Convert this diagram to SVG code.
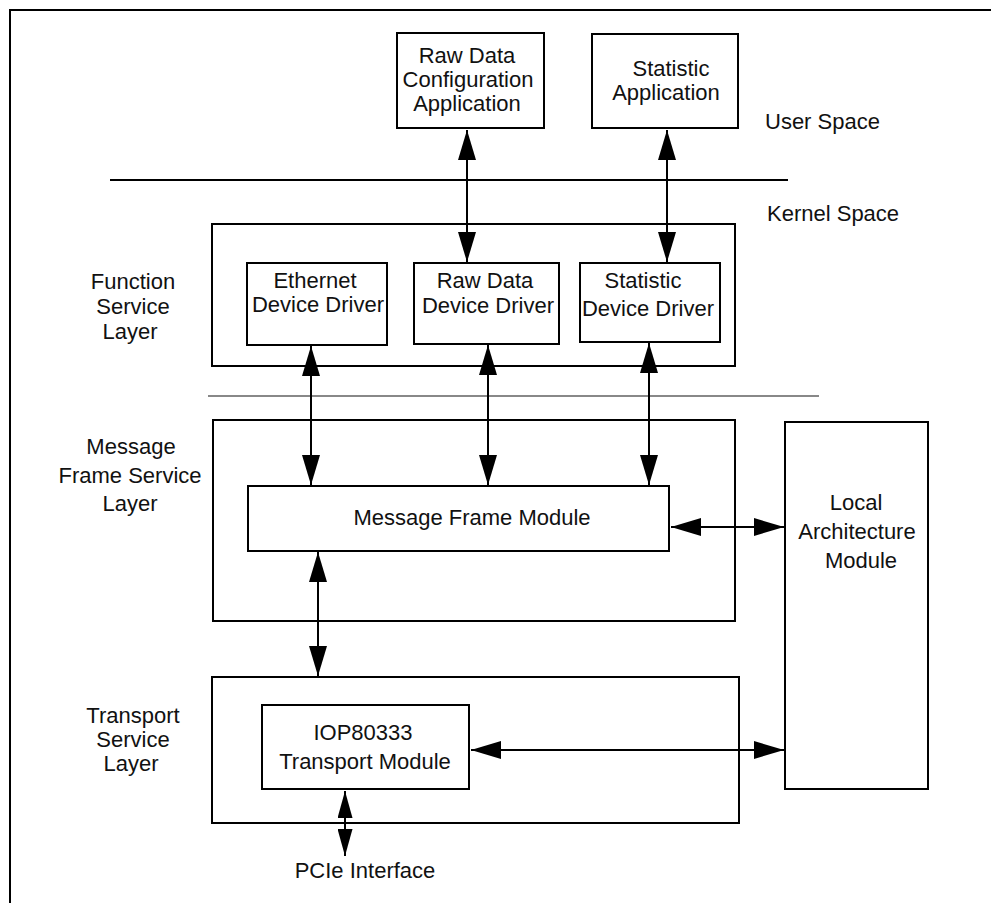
<svg xmlns="http://www.w3.org/2000/svg" width="991" height="903" viewBox="0 0 991 903">
  <style>
    .box { fill: none; stroke: #000; stroke-width: 2; }
    .t { font-family: "Liberation Sans", Arial, sans-serif; font-size: 22px; fill: #111; text-anchor: middle; }
    .ts { text-anchor: start; }
    .c { stroke: #000; stroke-width: 2; fill: none; }
    .big { marker-start: url(#ah); marker-end: url(#ah); }
    .small { marker-start: url(#ahs); marker-end: url(#ahs); }
  </style>
  <defs>
    <marker id="ah" viewBox="0 0 30 18" refX="30" refY="9" markerWidth="30" markerHeight="18" markerUnits="userSpaceOnUse" orient="auto-start-reverse">
      <path d="M0,0 L30,9 L0,18 Z" fill="#000"/>
    </marker>
    <marker id="ahs" viewBox="0 0 27 15" refX="27" refY="7.5" markerWidth="27" markerHeight="15" markerUnits="userSpaceOnUse" orient="auto-start-reverse">
      <path d="M0,0 L27,7.5 L0,15 Z" fill="#000"/>
    </marker>
  </defs>
  <rect width="991" height="903" fill="#fff"/>

  <g id="frame">
    <path d="M10,903 V10 H991" class="box"/>
  </g>

  <g id="separators">
    <line x1="110" y1="180" x2="788" y2="180" stroke="#000" stroke-width="2"/>
    <line x1="208" y1="396" x2="819" y2="396" stroke="#888" stroke-width="2"/>
  </g>

  <g id="space-labels">
    <text class="t ts" x="765" y="129">User Space</text>
    <text class="t ts" x="767" y="221">Kernel Space</text>
  </g>

  <g id="raw-data-config-app">
    <rect class="box" x="397" y="33" width="147" height="95"/>
    <text class="t" x="467" y="63">Raw Data</text>
    <text class="t" x="468" y="87">Configuration</text>
    <text class="t" x="467" y="111">Application</text>
  </g>

  <g id="statistic-app">
    <rect class="box" x="592" y="34" width="146" height="94"/>
    <text class="t" x="671" y="76">Statistic</text>
    <text class="t" x="666" y="100">Application</text>
  </g>

  <g id="function-service-layer">
    <rect class="box" x="212" y="224" width="523" height="142"/>
    <text class="t" x="133" y="289">Function</text>
    <text class="t" x="133" y="314">Service</text>
    <text class="t" x="130" y="339">Layer</text>
  </g>

  <g id="ethernet-dd">
    <rect class="box" x="247" y="263" width="140" height="82"/>
    <text class="t" x="315" y="288">Ethernet</text>
    <text class="t" x="318" y="312">Device Driver</text>
  </g>

  <g id="raw-data-dd">
    <rect class="box" x="414" y="263" width="145" height="81"/>
    <text class="t" x="485" y="288">Raw Data</text>
    <text class="t" x="488" y="313">Device Driver</text>
  </g>

  <g id="statistic-dd">
    <rect class="box" x="580" y="263" width="140" height="79"/>
    <text class="t" x="643" y="288">Statistic</text>
    <text class="t" x="648" y="316">Device Driver</text>
  </g>

  <g id="message-frame-service-layer">
    <rect class="box" x="213" y="420" width="522" height="201"/>
    <text class="t" x="131" y="454">Message</text>
    <text class="t" x="130" y="483">Frame Service</text>
    <text class="t" x="130" y="511">Layer</text>
  </g>

  <g id="message-frame-module">
    <rect class="box" x="248" y="486" width="421" height="65"/>
    <text class="t" x="472" y="525">Message Frame Module</text>
  </g>

  <g id="local-architecture-module">
    <rect class="box" x="785" y="422" width="143" height="367"/>
    <text class="t" x="856" y="510">Local</text>
    <text class="t" x="857" y="539">Architecture</text>
    <text class="t" x="861" y="568">Module</text>
  </g>

  <g id="transport-service-layer">
    <rect class="box" x="212" y="677" width="527" height="146"/>
    <text class="t" x="133" y="723">Transport</text>
    <text class="t" x="133" y="747">Service</text>
    <text class="t" x="131" y="771">Layer</text>
  </g>

  <g id="iop-transport-module">
    <rect class="box" x="262" y="705" width="207" height="84"/>
    <text class="t" x="363" y="740">IOP80333</text>
    <text class="t" x="365" y="769">Transport Module</text>
  </g>

  <g id="pcie-interface">
    <text class="t" x="365" y="878">PCIe Interface</text>
  </g>

  <g id="connectors">
    <line class="c big" x1="467" y1="130" x2="467" y2="262"/>
    <line class="c big" x1="667" y1="130" x2="667" y2="262"/>
    <line class="c big" x1="311" y1="346" x2="311" y2="485"/>
    <line class="c big" x1="488" y1="345" x2="488" y2="485"/>
    <line class="c big" x1="649" y1="343" x2="649" y2="485"/>
    <line class="c big" x1="671" y1="527" x2="784" y2="527"/>
    <line class="c big" x1="318" y1="552" x2="318" y2="676"/>
    <line class="c big" x1="471" y1="750" x2="784" y2="750"/>
    <line class="c small" x1="345" y1="791" x2="345" y2="856"/>
  </g>
</svg>
